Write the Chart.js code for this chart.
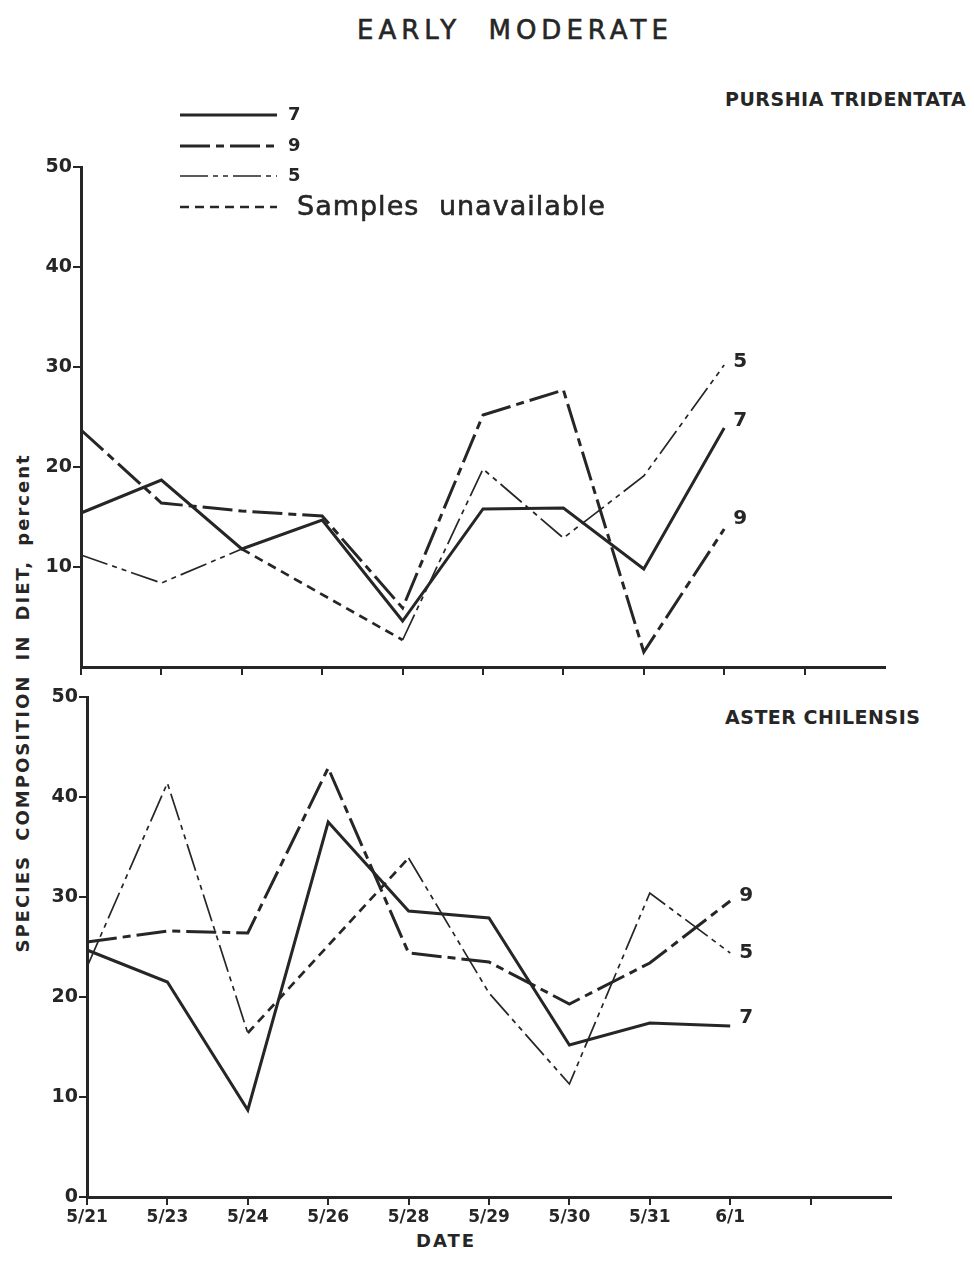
<!DOCTYPE html>
<html>

<head>
    <title>Early Moderate</title>
    <script src="https://cdn.jsdelivr.net/npm/chart.js"></script>
    <style>
        body {
            margin: 0;
            width: 974px;
            height: 1280px;
            position: relative;
            overflow: hidden;
            background: #fff;
            color: #262626;
            font-family: "DejaVu Sans", sans-serif;
        }

        canvas,
        .txt {
            position: absolute;
        }

        .txt {
            white-space: nowrap;
        }

        #title {
            left: 357px;
            top: 15px;
            font-size: 26px;
            letter-spacing: 5px;
            word-spacing: 14px;
            -webkit-text-stroke: 0.6px #262626;
        }

        .panel {
            left: 725px;
            font-size: 19px;
            font-weight: bold;
            letter-spacing: 0.5px;
        }

        #yTitle {
            left: 22px;
            top: 703px;
            font-size: 18px;
            font-weight: bold;
            letter-spacing: 2px;
            word-spacing: 6px;
            transform: translate(-50%, -50%) rotate(-90deg);
        }

        #xTitle {
            left: 416px;
            top: 1230px;
            font-size: 18px;
            font-weight: bold;
            letter-spacing: 2px;
        }
    </style>
</head>

<body>
    <div id="title" class="txt">EARLY MODERATE</div>
    <div class="txt panel" style="top: 88px;">PURSHIA TRIDENTATA</div>
    <div class="txt panel" style="top: 706px;">ASTER CHILENSIS</div>
    <div id="yTitle" class="txt">SPECIES COMPOSITION IN DIET, percent</div>
    <div id="xTitle" class="txt">DATE</div>

    <canvas id="purshiaChart" width="920" height="650" style="left: 0; top: 60px;"></canvas>
    <canvas id="asterChart" width="920" height="610" style="left: 6px; top: 670px;"></canvas>

    <script>
        // categories (two empty slots after 6/1, the axis runs on past the data)
        const dates = ['5/21', '5/23', '5/24', '5/26', '5/28', '5/29', '5/30', '5/31', '6/1', '', ''];
        const yTicksUpper = [10, 20, 30, 40, 50];
        const yTicksLower = [0, 10, 20, 30, 40, 50];

        // Purshia tridentata, percent of diet
        const purshia7 = [15.4, 18.7, 11.8, 14.7, 4.6, 15.8, 15.9, 9.8, 23.9];
        const purshia9 = [23.7, 16.4, 15.6, 15.1, 5.9, 25.2, 27.7, 1.5, 13.8];
        const purshia5 = [11.2, 8.4, 11.8, null, 2.7, 19.8, 12.9, 19.1, 30.2];
        const purshiaMissing = [null, null, 11.8, null, 2.7];

        // Aster chilensis, percent of diet
        const aster7 = [24.7, 21.5, 8.7, 37.5, 28.6, 27.9, 15.2, 17.4, 17.1];
        const aster9 = [25.5, 26.6, 26.4, 42.9, 24.4, 23.5, 19.3, 23.4, 29.6];
        const aster5 = [23.0, 41.4, 16.4, null, 33.9, 20.4, 11.3, 30.4, 24.4];
        const asterMissing = [null, null, 16.4, null, 33.9];

        const ink = '#262626';
        const clear = 'rgba(0,0,0,0)';

        // line styles shared by both panels
        function makeDatasets(s7, s9, s5, missing, labelDy) {
            return [
                { label: '7', data: s7, borderWidth: 3, borderDash: [], endLabel: '7', endDy: labelDy[0] },
                { label: '9', data: s9, borderWidth: 3, borderDash: [30, 6, 8, 6], endLabel: '9', endDy: labelDy[1] },
                { label: '5', data: s5, borderWidth: 1.7, borderDash: [28, 5, 5, 5, 5, 5], endLabel: '5', endDy: labelDy[2] },
                { label: 'Samples unavailable', data: missing, borderWidth: 2.7, borderDash: [9, 6], spanGaps: true }
            ].map(ds => Object.assign({
                borderColor: ink,
                pointRadius: 0,
                tension: 0,
                fill: false,
                spanGaps: false
            }, ds));
        }

        // small number next to the end of each series
        const endLabels = {
            id: 'endLabels',
            afterDatasetsDraw(chart) {
                const ctx = chart.ctx;
                ctx.save();
                ctx.fillStyle = ink;
                ctx.font = 'bold 20px "DejaVu Sans"';
                ctx.textBaseline = 'middle';
                chart.data.datasets.forEach((ds, i) => {
                    if (!ds.endLabel) return;
                    const pts = chart.getDatasetMeta(i).data;
                    let last = ds.data.length - 1;
                    while (last > 0 && ds.data[last] == null) last--;
                    const p = pts[last];
                    ctx.fillText(ds.endLabel, p.x + 9, p.y + ds.endDy);
                });
                ctx.restore();
            }
        };

        // hand drawn style legend at the top left of the upper panel
        const lineKey = {
            id: 'lineKey',
            afterDraw(chart) {
                const ctx = chart.ctx;
                const rows = [55, 86, 116, 147];
                ctx.save();
                chart.data.datasets.forEach((ds, i) => {
                    const y = rows[i];
                    ctx.strokeStyle = ink;
                    ctx.lineWidth = ds.borderWidth;
                    ctx.setLineDash(ds.borderDash);
                    ctx.beginPath();
                    ctx.moveTo(180, y);
                    ctx.lineTo(277, y);
                    ctx.stroke();
                    ctx.setLineDash([]);
                    ctx.fillStyle = ink;
                    ctx.textBaseline = 'middle';
                    if (i < 3) {
                        ctx.font = 'bold 18px "DejaVu Sans"';
                        ctx.fillText(ds.label, 288, y);
                    } else {
                        ctx.font = '27px "DejaVu Sans"';
                        ctx.letterSpacing = '1px';
                        ctx.wordSpacing = '10px';
                        ctx.lineWidth = 0.6;
                        ctx.strokeText(ds.label, 297, y + 1);
                        ctx.fillText(ds.label, 297, y + 1);
                    }
                });
                ctx.restore();
            }
        };

        function makeOptions(yTicks, showDates, padTop, xHeight) {
            return {
                responsive: false,
                animation: false,
                layout: { padding: { top: padTop, right: 35, left: 0, bottom: 0 } },
                plugins: {
                    legend: { display: false },
                    tooltip: { enabled: false }
                },
                scales: {
                    x: {
                        grid: {
                            drawOnChartArea: false,
                            tickLength: 8,
                            lineWidth: 2,
                            color: ink,
                            tickColor: c => c.index === dates.length - 1 ? clear : ink
                        },
                        border: { color: ink, width: 3 },
                        ticks: {
                            display: showDates,
                            autoSkip: false,
                            maxRotation: 0,
                            padding: 2,
                            color: ink,
                            font: { family: 'DejaVu Sans', size: 17, weight: 'bold' }
                        },
                        afterFit: s => { s.height = xHeight; }
                    },
                    y: {
                        min: 0,
                        max: 50,
                        afterBuildTicks: s => { s.ticks = yTicks.map(v => ({ value: v })); },
                        grid: {
                            drawOnChartArea: false,
                            tickLength: 8,
                            lineWidth: 2,
                            color: ink
                        },
                        border: { color: ink, width: 3 },
                        ticks: {
                            padding: 1,
                            color: ink,
                            font: { family: 'DejaVu Sans', size: 19, weight: 'bold' }
                        },
                        afterFit: s => { s.width = 81; }
                    }
                }
            };
        }

        new Chart(document.getElementById('purshiaChart'), {
            type: 'line',
            data: {
                labels: dates,
                datasets: makeDatasets(purshia7, purshia9, purshia5, purshiaMissing, [-7, -10, -3])
            },
            options: makeOptions(yTicksUpper, false, 107, 43),
            plugins: [endLabels, lineKey]
        });

        new Chart(document.getElementById('asterChart'), {
            type: 'line',
            data: {
                labels: dates,
                datasets: makeDatasets(aster7, aster9, aster5, asterMissing, [-8, -5, 0])
            },
            options: makeOptions(yTicksLower, true, 27, 83),
            plugins: [endLabels]
        });
    </script>
</body>

</html>
